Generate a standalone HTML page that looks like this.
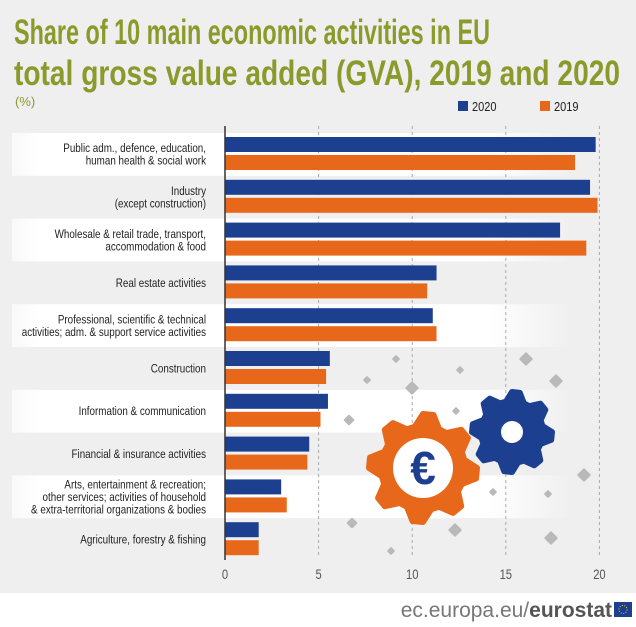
<!DOCTYPE html>
<html><head><meta charset="utf-8"><style>
html,body{margin:0;padding:0;background:#efefef;}
svg{display:block;font-family:"Liberation Sans",sans-serif;}
</style></head><body>
<svg id="chart" width="636" height="627" viewBox="0 0 636 627">
<defs>
<linearGradient id="fade" x1="0" x2="1" y1="0" y2="0">
<stop offset="0" stop-color="#fff" stop-opacity="0.6"/><stop offset="0.05" stop-color="#fff"/><stop offset="0.85" stop-color="#fff"/><stop offset="1" stop-color="#fff" stop-opacity="0"/>
</linearGradient>
</defs>
<rect width="636" height="627" fill="#efefef"/>
<rect y="593" width="636" height="34" fill="#fff"/>
<g fill="#8c9a2c" font-weight="bold" font-size="35">
<text x="14" y="44" textLength="476" lengthAdjust="spacingAndGlyphs">Share of 10 main economic activities in EU</text>
<text x="14" y="85" textLength="606" lengthAdjust="spacingAndGlyphs">total gross value added (GVA), 2019 and 2020</text>
</g>
<text x="15" y="106" font-size="13" fill="#8c9a2c">(%)</text>
<g>
<rect x="458" y="101" width="10" height="10" fill="#1d3f8f"/>
<text transform="translate(472,111) scale(0.85,1)" font-size="13" fill="#222">2020</text>
<rect x="540" y="101" width="10" height="10" fill="#e8681b"/>
<text transform="translate(554,111) scale(0.85,1)" font-size="13" fill="#222">2019</text>
</g>
<g id="bands"></g>
<g id="grid"></g>
<g id="deco" fill="#b9b9b9"></g>
<g id="gears"></g>
<g id="bars"></g>
<g id="labels"></g>
<g id="ticks"></g>
<g>
<text x="612" y="617" text-anchor="end" font-size="21" fill="#555"><tspan fill="#777">ec.europa.eu/</tspan><tspan font-weight="bold" fill="#555">eurostat</tspan></text>
<rect x="614" y="602" width="18" height="15" fill="#1d3f8f"/>
<circle cx="623" cy="609.5" r="4" fill="none" stroke="#ffcc00" stroke-width="1" stroke-dasharray="1 1.5"/>
</g>
</svg>
<script>
const categories = [
 ["Public adm., defence, education,","human health & social work"],
 ["Industry","(except construction)"],
 ["Wholesale & retail trade, transport,","accommodation & food"],
 ["Real estate activities"],
 ["Professional, scientific & technical","activities; adm. & support service activities"],
 ["Construction"],
 ["Information & communication"],
 ["Financial & insurance activities"],
 ["Arts, entertainment & recreation;","other services; activities of household","& extra-territorial organizations & bodies"],
 ["Agriculture, forestry & fishing"]
];
const values2020 = [19.8, 19.5, 17.9, 11.3, 11.1, 5.6, 5.5, 4.5, 3.0, 1.8];
const values2019 = [18.7, 19.9, 19.3, 10.8, 11.3, 5.4, 5.1, 4.4, 3.3, 1.8];
const tickValues = [0, 5, 10, 15, 20];
const tickLabels = ["0", "5", "10", "15", "20"];

const NS = "http://www.w3.org/2000/svg";
const x0 = 225, pxPer = 18.72;
const xScale = v => x0 + v * pxPer;
const rowTop = 133, rowH = 42.8;
function mk(tag, attrs, parent){const e=document.createElementNS(NS,tag);for(const k in attrs)e.setAttribute(k,attrs[k]);parent.appendChild(e);return e;}

const bands=document.getElementById('bands'), grid=document.getElementById('grid'), bars=document.getElementById('bars'), labels=document.getElementById('labels'), ticks=document.getElementById('ticks');
categories.forEach((c,i)=>{
  if(i%2===0){
    const b=mk('rect',{x:12,y:rowTop+i*rowH,width:560,height:rowH,fill:'url(#fade)'},bands);
    
    
  }
});
tickValues.forEach((t,i)=>{
  if(t>0){
    const l=mk('line',{x1:xScale(t),x2:xScale(t),y1:126,y2:558,stroke:'#aaa','stroke-width':1,'stroke-dasharray':'3 3'},grid);
    
    
  }
  const tx=mk('text',{transform:`translate(${xScale(t)},579) scale(0.8,1)`,'text-anchor':'middle','font-size':14,fill:'#555'},ticks);
  tx.textContent=tickLabels[i];
  
  
});
const axis=mk('line',{x1:x0,x2:x0,y1:126,y2:560,stroke:'#333','stroke-width':1.5},ticks);



categories.forEach((c,i)=>{
  const top=rowTop+i*rowH;
  const b1=mk('rect',{x:x0,y:top+4,width:xScale(values2020[i])-x0,height:15,fill:'#1d3f8f'},bars);
  
  
  const b2=mk('rect',{x:x0,y:top+22,width:xScale(values2019[i])-x0,height:15,fill:'#e8681b'},bars);
  
  
  const lh=12.5, n=c.length, cy=top+rowH/2+4-(n-1)*lh/2;
  c.forEach((line,j)=>{
    const t=mk('text',{transform:`translate(206,${cy+j*lh}) scale(0.82,1)`,'text-anchor':'end','font-size':12,fill:'#222'},labels);
    t.textContent=line;
    
    
  });
});

const deco=document.getElementById('deco');
[[396,359,3],[526,359,5],[367,380,3],[460,370,3],[412,388,5],[556,381,5],[456,411,3],[349,420,4],[584,475,5],[493,492,3],[548,494,3],[352,523,4],[455,530,5],[551,538,5],[391,551,3]].forEach(p=>{
  const r=mk('rect',{x:p[0]-p[2],y:p[1]-p[2],width:p[2]*2,height:p[2]*2,transform:`rotate(45 ${p[0]} ${p[1]})`,rx:1},deco);
  
  
});
function gear(cx,cy,rOut,rIn,teeth,color,hole,parent){
  let d='';
  const steps=teeth*4;
  for(let k=0;k<steps;k++){
    const a=(k/steps)*Math.PI*2 - Math.PI/2;
    const r=(k%4<2)?rOut:rIn;
    d+=(k===0?'M':'L')+(cx+r*Math.cos(a)).toFixed(1)+' '+(cy+r*Math.sin(a)).toFixed(1)+' ';
  }
  d+='Z';
  mk('path',{d:d,fill:color,'stroke':color,'stroke-width':6,'stroke-linejoin':'round'},parent);
  mk('circle',{cx:cx,cy:cy,r:hole,fill:'#fff'},parent);
}
const gears=document.getElementById('gears');
gear(512,432,40,31,8,'#1d3f8f',11,gears);
gear(423,468,54,42,8,'#e8681b',30,gears);
mk('text',{x:423,y:484,'text-anchor':'middle','font-size':46,'font-weight':'bold',fill:'#1d3f8f'},gears).textContent='€';
</script>
</body></html>
